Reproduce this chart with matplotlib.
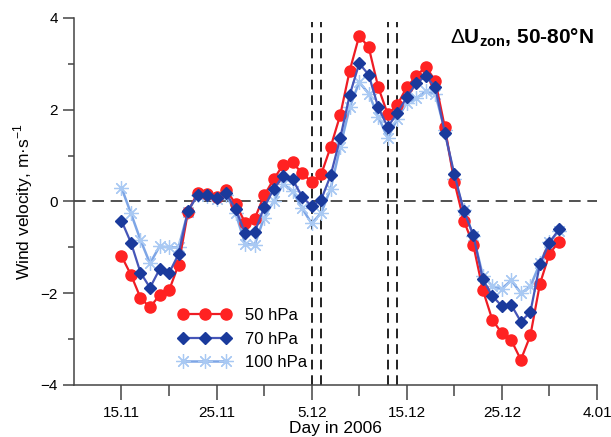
import numpy as np
import matplotlib
matplotlib.use("Agg")
import matplotlib.pyplot as plt
from matplotlib.ticker import FixedLocator, MultipleLocator

plt.rcParams["font.family"] = ["Liberation Sans", "DejaVu Sans"]
plt.rcParams["mathtext.fontset"] = "custom"
plt.rcParams["mathtext.rm"] = "Liberation Sans"
plt.rcParams["mathtext.bf"] = "Liberation Sans:bold"

# day numbers counted from 1 November 2006 (1.11 = 1, 1.12 = 31)
days = np.arange(15, 62)

u50 = [-1.19, -1.60, -2.10, -2.31, -2.04, -1.94, -1.38, -0.22, 0.19, 0.16,
       0.10, 0.25, -0.05, -0.46, -0.38, 0.13, 0.48, 0.80, 0.85, 0.61,
       0.43, 0.59, 1.19, 1.88, 2.85, 3.61, 3.36, 2.49, 1.90, 2.10,
       2.49, 2.73, 2.94, 2.63, 1.62, 0.43, -0.42, -0.95, -1.93, -2.58,
       -2.87, -3.03, -3.45, -2.92, -1.80, -1.14, -0.88]
u70 = [-0.42, -0.90, -1.55, -1.88, -1.48, -1.56, -1.15, -0.20, 0.14, 0.14,
       0.08, 0.18, -0.17, -0.68, -0.67, -0.13, 0.27, 0.56, 0.48, 0.10,
       -0.10, 0.04, 0.57, 1.38, 2.32, 3.01, 2.76, 2.05, 1.62, 1.93,
       2.27, 2.58, 2.73, 2.49, 1.50, 0.60, -0.21, -0.73, -1.70, -2.06,
       -2.28, -2.26, -2.62, -2.41, -1.37, -0.90, -0.61]
u100 = [0.30, -0.26, -0.84, -1.35, -0.98, -1.00, -1.00, -0.22, 0.15, 0.12,
        0.05, 0.15, -0.25, -0.92, -0.95, -0.35, 0.00, 0.38, 0.22, -0.15,
        -0.48, -0.25, 0.28, 1.19, 2.05, 2.60, 2.35, 1.85, 1.38, 1.80,
        2.15, 2.25, 2.40, 2.35, 1.55, 0.50, -0.18, -0.75, -1.62, -1.85,
        -1.90, -1.72, -2.00, -1.85, -1.35, -0.88, -0.65]

tick_days = [15, 25, 35, 45, 55, 65]
tick_labels = ["15.11", "25.11", "5.12", "15.12", "25.12", "4.01"]
event_days = [35, 36, 43, 44]

fig = plt.figure(figsize=(6.11, 4.37), dpi=100)
ax = fig.add_axes([0.121, 0.119, 0.856, 0.840])

ax.plot(days, u100, color="#7ea6e6", lw=1.8, marker=(8, 2, 0), ms=10.5,
        mec="#a9c9f3", mew=0.9, label="100 hPa", zorder=3)
ax.plot(days, u50, color="#ee1c24", lw=1.6, marker="o", ms=8,
        mfc="#ff2222", mec="#ff2222", label="50 hPa", zorder=4)
ax.plot(days, u70, color="#4656b8", lw=1.6, marker="D", ms=6.5,
        mfc="#1a3a9c", mec="#1a3a9c", label="70 hPa", zorder=5)

ax.axhline(0, color="#333333", lw=1.2, dashes=(7, 4), zorder=1)
for d in event_days:
    ax.axvline(d, color="#222222", lw=1.4, dashes=(5, 3), ymax=0.99, zorder=2)

ax.set_xlim(10, 65)
ax.set_ylim(-4, 4)
ax.xaxis.set_major_locator(FixedLocator(tick_days))
ax.set_xticklabels(tick_labels)
ax.xaxis.set_minor_locator(FixedLocator([20, 30, 40, 50, 60]))
ax.yaxis.set_major_locator(MultipleLocator(2))
ax.yaxis.set_minor_locator(MultipleLocator(1))
ax.tick_params(axis="x", which="major", length=11, width=1.1, color="#444444",
               labelsize=11, pad=4)
ax.tick_params(axis="x", which="minor", length=8, width=1.1, color="#444444")
ax.tick_params(axis="y", which="major", length=8, width=1.1, color="#444444",
               labelsize=11)
ax.tick_params(axis="y", which="minor", length=4, width=1.1, color="#444444")
for s in ["top", "right"]:
    ax.spines[s].set_visible(False)
for s in ["left", "bottom"]:
    ax.spines[s].set_color("#444444")
    ax.spines[s].set_linewidth(1.1)

ax.set_xlabel("Day in 2006", fontsize=12.5, labelpad=1)
ax.set_ylabel(r"Wind velocity, m·s$^{\mathregular{-1}}$", fontsize=12.5, labelpad=4)

ax.text(0.995, 0.945, r"$\Delta\mathbf{U}_{\mathbf{zon}}$, 50-80°N",
        transform=ax.transAxes, ha="right", va="center",
        fontsize=15, fontweight="bold")

h, l = ax.get_legend_handles_labels()
order = [1, 2, 0]
ax.legend([h[i] for i in order], [l[i] for i in order],
          loc="lower left", bbox_to_anchor=(0.17, 0.0), frameon=False,
          numpoints=3, handlelength=3.2, fontsize=12, labelspacing=0.5,
          handletextpad=0.8)

fig.savefig("out.png", dpi=100)
